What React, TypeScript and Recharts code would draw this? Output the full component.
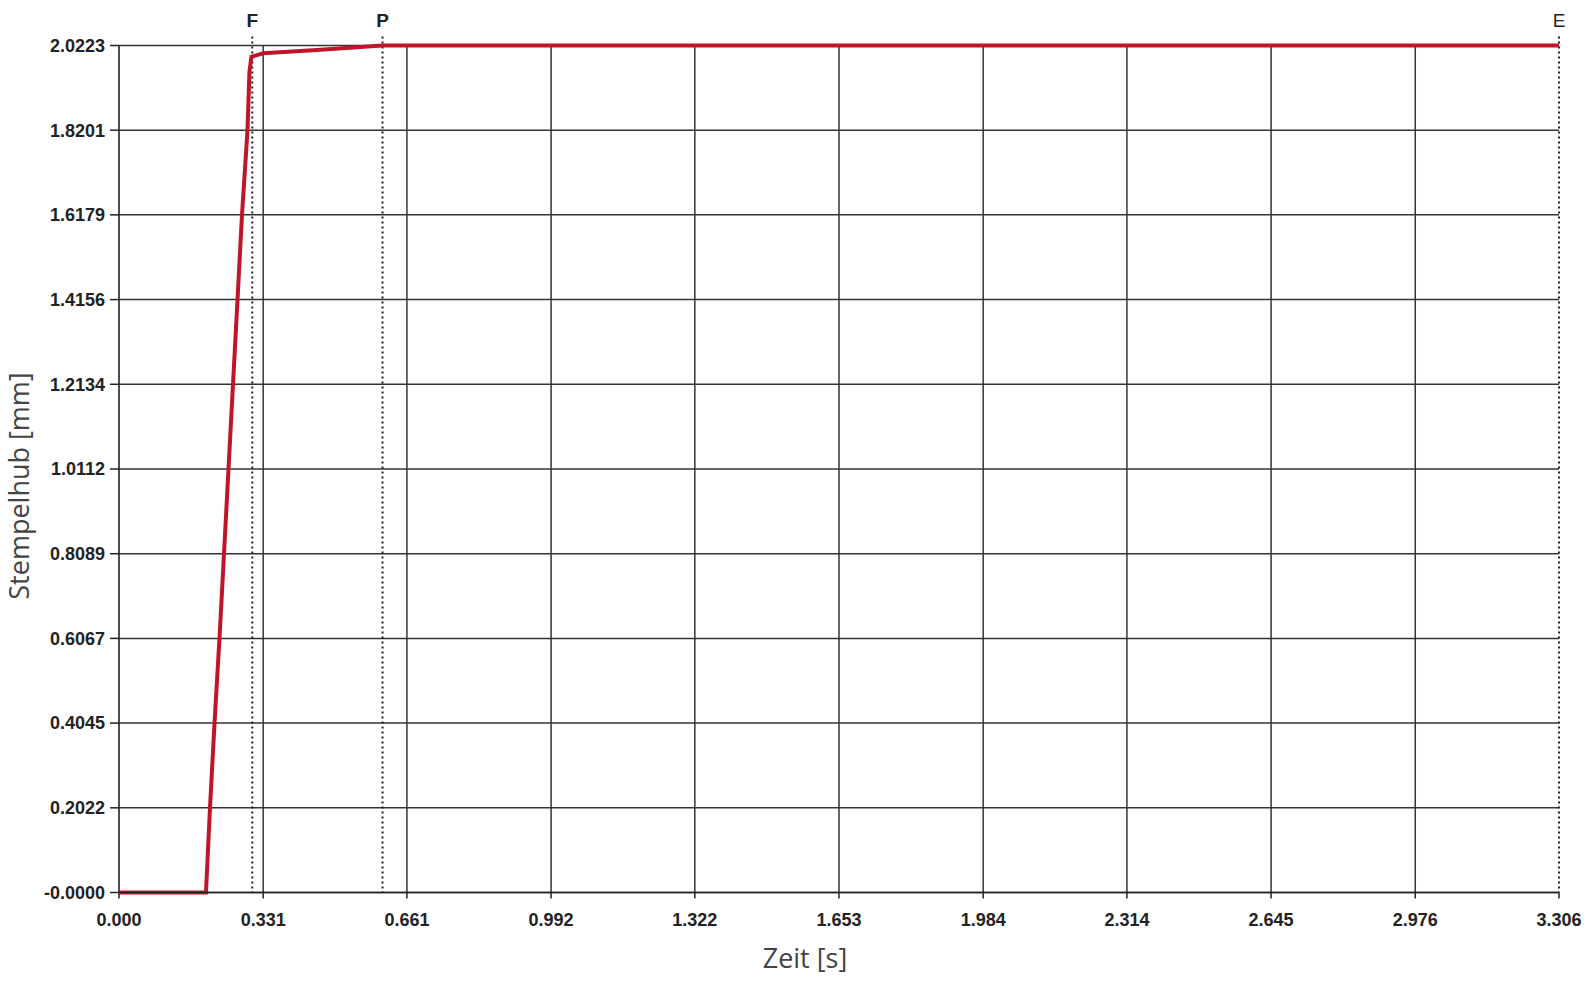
import React from 'react';
import { LineChart, Line, XAxis, YAxis, CartesianGrid, ReferenceLine } from 'recharts';

const timeValues = [0, 0.1997, 0.2089, 0.2193, 0.2307, 0.2411, 0.2514, 0.2617, 0.2721, 0.2824, 0.295, 0.2995, 0.304, 0.331, 0.454, 0.605, 3.306];
const strokeValues = [0, 0, 0.2022, 0.4045, 0.6067, 0.8089, 1.0112, 1.2134, 1.4156, 1.6179, 1.8201, 1.96, 1.9955, 2.0036, 2.0115, 2.0223, 2.0223];

const xTickLabels = ['0.000', '0.331', '0.661', '0.992', '1.322', '1.653', '1.984', '2.314', '2.645', '2.976', '3.306'];
const yTickLabels = ['-0.0000', '0.2022', '0.4045', '0.6067', '0.8089', '1.0112', '1.2134', '1.4156', '1.6179', '1.8201', '2.0223'];

const markerNames = ['F', 'P', 'E'];
const markerTimes = [0.306, 0.605, 3.306];

const xTicks = xTickLabels.map(Number);
const yTicks = yTickLabels.map((s) => Math.abs(Number(s)));
const data = timeValues.map((t, i) => ({ t, v: strokeValues[i] }));

const tickStyle = { fontFamily: '"Liberation Sans", Arial, sans-serif', fontSize: 18, fontWeight: 700, fill: '#222' };

const DottedLine = (props: any) => {
  const top = Math.min(props.y1, props.y2) - 9;
  const bottom = Math.max(props.y1, props.y2);
  return <line x1={props.x1} x2={props.x2} y1={top} y2={bottom} stroke="#222" strokeWidth={2} strokeDasharray="2 3" />;
};

export default function App() {
  return (
    <div style={{ position: 'absolute', left: 0, top: 0, width: 1594, height: 984, background: '#fff' }}>
      <LineChart
        width={1594}
        height={984}
        data={data}
        margin={{ top: 45.5, right: 35, bottom: 31.5, left: 19 }}
      >
        <CartesianGrid vertical={false} stroke="#333" strokeWidth={1.5} />
        {xTicks.slice(1, xTicks.length - 1).map((x) => (
          <ReferenceLine key={'g' + x} x={x} stroke="#333" strokeWidth={1.5} />
        ))}
        <XAxis
          dataKey="t"
          type="number"
          domain={[0, 3.306]}
          ticks={xTicks}
          interval={0}
          tickFormatter={(v: any, i: number) => xTickLabels[i]}
          tick={tickStyle}
          tickSize={6}
          tickMargin={15}
          height={60}
          axisLine={{ stroke: '#222', strokeWidth: 1.6 }}
          tickLine={{ stroke: '#222', strokeWidth: 1.5 }}
        />
        <YAxis
          type="number"
          domain={[0, 2.0223]}
          ticks={yTicks}
          interval={0}
          tickFormatter={(v: any, i: number) => yTickLabels[i]}
          tick={tickStyle}
          tickSize={9}
          tickMargin={5}
          width={100}
          axisLine={{ stroke: '#222', strokeWidth: 1.6 }}
          tickLine={{ stroke: '#222', strokeWidth: 1.5 }}
        />
        {markerNames.map((name, i) => (
          <ReferenceLine
            key={name}
            x={markerTimes[i]}
            shape={DottedLine}
            label={{
              value: name,
              position: 'top',
              offset: 19,
              fill: '#222',
              fontSize: 19,
              fontWeight: name === 'E' ? 400 : 700,
              fontFamily: '"Liberation Sans", Arial, sans-serif',
            }}
          />
        ))}
        <Line
          type="linear"
          dataKey="v"
          stroke="#bf1526"
          strokeWidth={4}
          dot={false}
          isAnimationActive={false}
        />
      </LineChart>
      <div
        style={{
          position: 'absolute',
          left: 805,
          top: 957,
          transform: 'translate(-50%, -50%)',
          fontFamily: '"Open Sans", sans-serif',
          fontSize: 27,
          color: '#444',
          whiteSpace: 'nowrap',
          lineHeight: 1,
        }}
      >
        Zeit [s]
      </div>
      <div
        style={{
          position: 'absolute',
          left: 18,
          top: 486,
          transform: 'translate(-50%, -50%) rotate(-90deg)',
          fontFamily: '"Open Sans", sans-serif',
          fontSize: 27,
          color: '#444',
          whiteSpace: 'nowrap',
          lineHeight: 1,
        }}
      >
        Stempelhub [mm]
      </div>
    </div>
  );
}
